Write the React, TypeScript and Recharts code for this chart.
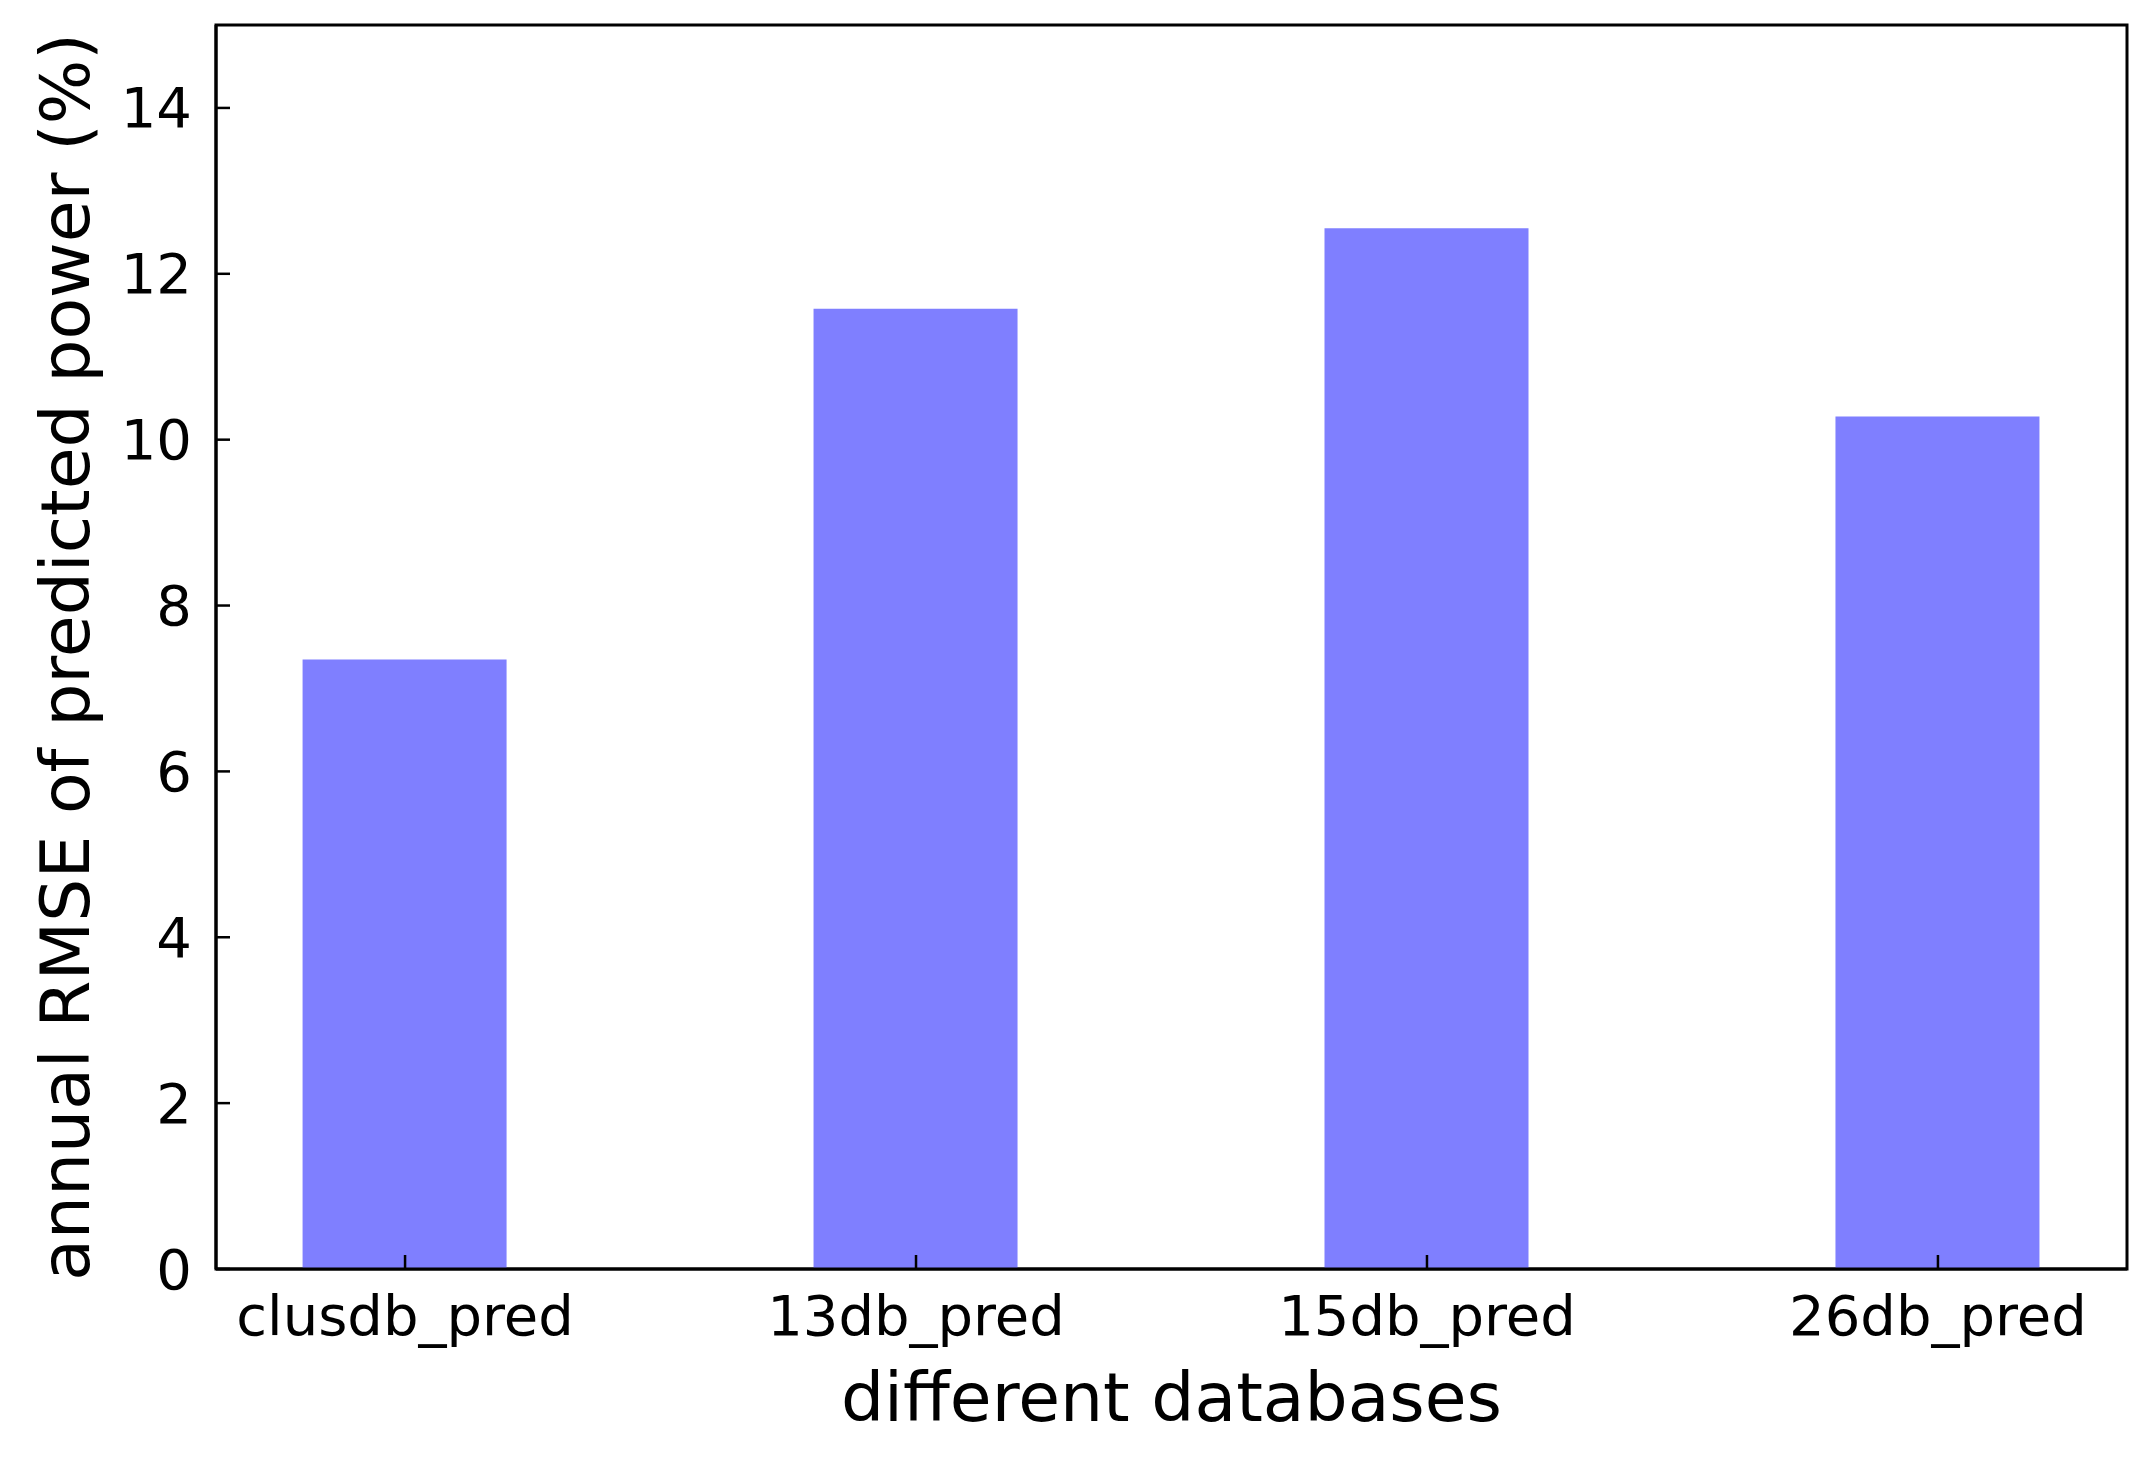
import { BarChart, Bar, XAxis, YAxis, ReferenceArea, Label } from "recharts";

const categories = ["clusdb_pred", "13db_pred", "15db_pred", "26db_pred"];
const positions = [0, 1, 2, 3];
const rmseValues = [7.35, 11.58, 12.55, 10.28];
const yTicks = [0, 2, 4, 6, 8, 10, 12, 14];

const data = categories.map((name, i) => ({ x: positions[i], name, rmse: rmseValues[i] }));

const FONT = "'DejaVu Sans', sans-serif";
const TICK_LEN = 14;
const Y_TICK_GAP = 24;

function YTick(props: any) {
  const { x, y, payload } = props;
  const axisX = x + Y_TICK_GAP;
  return (
    <g>
      <line x1={axisX} x2={axisX + TICK_LEN} y1={y} y2={y} stroke="#000" strokeWidth={2.5} />
      <text x={x} y={y} textAnchor="end" dominantBaseline="central" fontSize={56} fontFamily={FONT} fill="#000">
        {payload.value}
      </text>
    </g>
  );
}

function XTick(props: any) {
  const { x, y, payload } = props;
  return (
    <g>
      <line x1={x} x2={x} y1={y} y2={y - TICK_LEN} stroke="#000" strokeWidth={2.5} />
      <text x={x} y={y + 66} textAnchor="middle" fontSize={56} fontFamily={FONT} fill="#000">
        {categories[payload.value]}
      </text>
    </g>
  );
}

export default function App() {
  return (
    <div style={{ width: 2154, height: 1458, background: "#fff" }}>
      <style>{`body{margin:0}`}</style>
      <BarChart width={2154} height={1458} data={data} margin={{ top: 25, right: 27, left: 0, bottom: 0 }}>
        <XAxis
          dataKey="x"
          type="number"
          domain={[-0.37, 3.37]}
          ticks={positions}
          allowDataOverflow
          height={189}
          tickSize={0}
          tickMargin={0}
          tick={<XTick />}
          axisLine={{ stroke: "#000", strokeWidth: 3 }}
        >
          <Label
            content={(p: any) => {
              const vb = p.viewBox;
              return (
                <text x={vb.x + vb.width / 2} y={vb.y + 152} textAnchor="middle" fontSize={68} fontFamily={FONT} fill="#000">
                  different databases
                </text>
              );
            }}
          />
        </XAxis>
        <YAxis
          type="number"
          domain={[0, 15]}
          ticks={yTicks}
          width={216}
          tickSize={0}
          tickMargin={Y_TICK_GAP}
          tick={<YTick />}
          axisLine={{ stroke: "#000", strokeWidth: 3 }}
        >
          <Label
            content={(p: any) => {
              const vb = p.viewBox;
              const cx = vb.x + 89;
              const cy = vb.y + vb.height / 2 + 10;
              return (
                <text x={cx} y={cy} transform={`rotate(-90 ${cx} ${cy})`} textAnchor="middle" fontSize={68} fontFamily={FONT} fill="#000">
                  annual RMSE of predicted power (%)
                </text>
              );
            }}
          />
        </YAxis>
        <Bar dataKey="rmse" fill="#7f7fff" barSize={204} isAnimationActive={false} />
        <ReferenceArea x1={-0.37} x2={3.37} y1={0} y2={15} fill="none" stroke="#000" strokeWidth={3} />
      </BarChart>
    </div>
  );
}
